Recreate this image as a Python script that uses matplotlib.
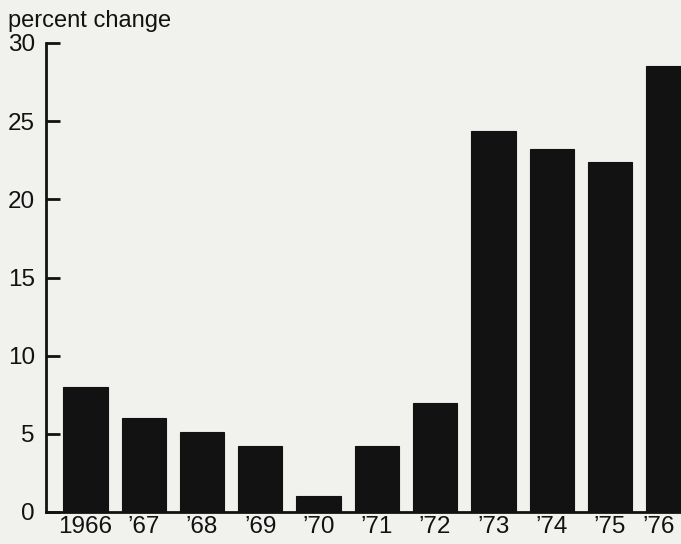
import matplotlib
matplotlib.use("Agg")
import matplotlib.pyplot as plt
import matplotlib.transforms as mtransforms

# Percent change by year
years = ["1966", "’67", "’68", "’69", "’70", "’71", "’72", "’73", "’74", "’75", "’76"]
pct_change = [8.0, 6.0, 5.1, 4.2, 1.0, 4.2, 7.0, 24.4, 23.2, 22.4, 28.5]
y_ticks = [0, 5, 10, 15, 20, 25, 30]

bg = "#f1f1ee"
ink = "#121212"

plt.rcParams["font.family"] = ["Liberation Sans", "DejaVu Sans"]

fig = plt.figure(figsize=(6.81, 5.44), dpi=100, facecolor=bg)
ax = fig.add_axes([46 / 681, 1 - 512 / 544, 1 - 46 / 681, (512 - 43) / 544])
ax.set_facecolor(bg)

x = range(len(years))
ax.bar(x, pct_change, width=0.76, color=ink, edgecolor=ink, linewidth=0.8)

ax.set_ylim(0, 30)
ax.set_xlim(-0.678, 10.22)
ax.set_yticks(y_ticks)
ax.set_xticks(list(x))
ax.set_xticklabels(years)

for s in ["top", "right"]:
    ax.spines[s].set_visible(False)
for s in ["left", "bottom"]:
    ax.spines[s].set_color(ink)
    ax.spines[s].set_linewidth(2)

ax.tick_params(axis="y", direction="in", length=10, width=2, color=ink,
               labelsize=17.5, labelcolor=ink, pad=8)
ax.tick_params(axis="x", length=0, labelsize=17.5, labelcolor=ink, pad=3)
for t in ax.yaxis.get_major_ticks():
    t.label1.set_verticalalignment("center_baseline")

# last label sits a bit left so it stays on the page
last = ax.get_xticklabels()[-1]
last.set_transform(last.get_transform() +
                   mtransforms.ScaledTranslation(-10 / 100, 0, fig.dpi_scale_trans))

fig.text(8 / 681, 1 - 27 / 544, "percent change", fontsize=17, color=ink,
         ha="left", va="baseline")

fig.savefig("out.png", dpi=100, facecolor=bg)
